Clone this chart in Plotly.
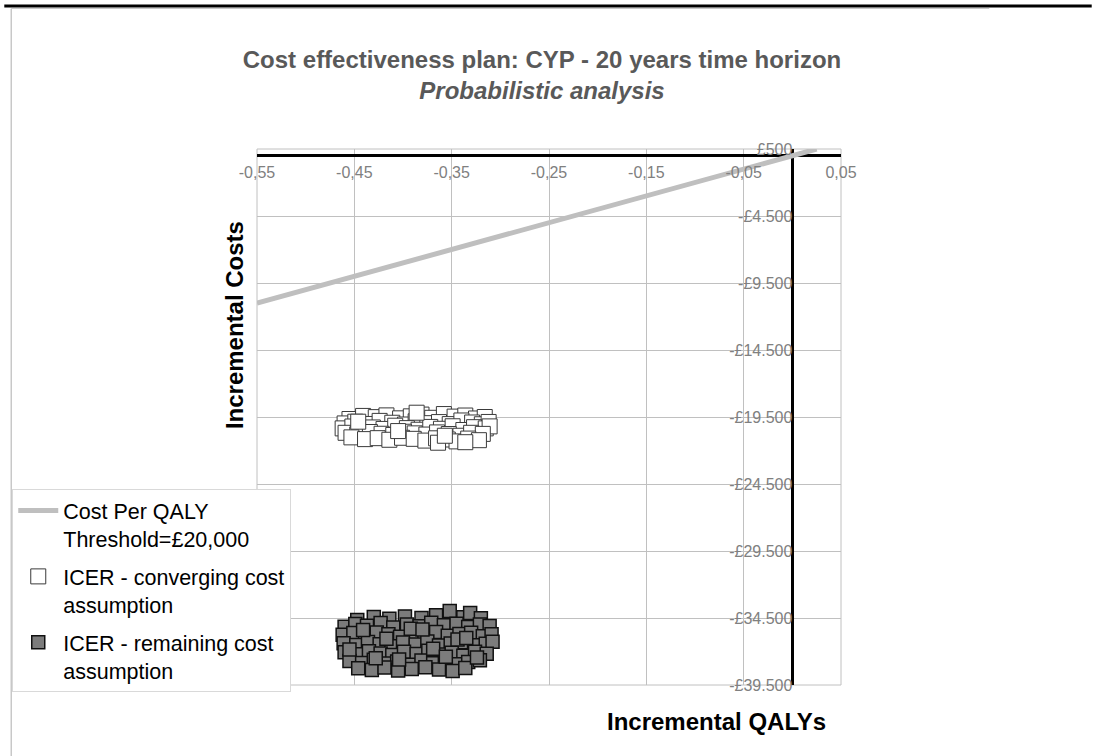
import plotly.graph_objects as go

# threshold line (cost per QALY = 20,000)
threshold_qaly = [-0.55, 0.025]
threshold_cost = [-11000, 500]

# ICER - converging cost assumption
conv_qaly = [-0.455, -0.441, -0.428, -0.417, -0.403, -0.392, -0.381, -0.370, -0.358, -0.347, -0.336, -0.325, -0.316,
             -0.460, -0.449, -0.436, -0.424, -0.411, -0.398, -0.387, -0.375, -0.363, -0.352, -0.340, -0.329, -0.319, -0.312,
             -0.462, -0.452, -0.443, -0.431, -0.420, -0.408, -0.396, -0.384, -0.372, -0.361, -0.349, -0.338, -0.327, -0.315, -0.311,
             -0.459, -0.447, -0.434, -0.422, -0.410, -0.399, -0.388, -0.376, -0.365, -0.353, -0.341, -0.330, -0.318,
             -0.453, -0.439, -0.426, -0.414, -0.401, -0.389, -0.377, -0.366, -0.354, -0.345, -0.333, -0.322,
             -0.386, -0.364, -0.336, -0.446, -0.405, -0.357]
conv_cost = [-19650, -19420, -19510, -19380, -19600, -19450, -19320, -19560, -19280, -19470, -19390, -19610, -19500,
             -19980, -19850, -20020, -19790, -19930, -20060, -19820, -19960, -19880, -20030, -19760, -19910, -20040, -19870,
             -20350, -20210, -20420, -20280, -20390, -20150, -20330, -20450, -20240, -20380, -20190, -20470, -20260, -20350, -20200,
             -20680, -20790, -20620, -20750, -20840, -20600, -20720, -20810, -20650, -20770, -20900, -20680, -20760,
             -21020, -21150, -21080, -21200, -21050, -21130, -21260, -21090, -21180, -21320, -21110, -21230,
             -19180, -21420, -21380, -19850, -20550, -20900]

# ICER - remaining cost assumption
rem_qaly = [-0.447, -0.430, -0.414, -0.398, -0.381, -0.366, -0.352, -0.338, -0.331, -0.320,
            -0.460, -0.449, -0.437, -0.423, -0.410, -0.396, -0.383, -0.371, -0.358, -0.345, -0.333, -0.321, -0.311,
            -0.462, -0.451, -0.439, -0.427, -0.415, -0.403, -0.390, -0.378, -0.366, -0.354, -0.342, -0.330, -0.318, -0.309,
            -0.461, -0.448, -0.436, -0.424, -0.412, -0.400, -0.387, -0.375, -0.363, -0.351, -0.339, -0.327, -0.315, -0.308,
            -0.460, -0.447, -0.435, -0.423, -0.411, -0.399, -0.386, -0.374, -0.362, -0.350, -0.338, -0.326, -0.314,
            -0.455, -0.442, -0.430, -0.418, -0.406, -0.394, -0.381, -0.369, -0.357, -0.345, -0.333, -0.321,
            -0.446, -0.432, -0.419, -0.405, -0.391, -0.377, -0.363, -0.349, -0.336,
            -0.441, -0.417, -0.392, -0.369, -0.344, -0.324, -0.455, -0.428, -0.404, -0.380, -0.356, -0.335]
rem_cost = [-34650, -34420, -34560, -34380, -34500, -34290, -33980, -34450, -34120, -34520,
            -35150, -34950, -35080, -34880, -35210, -34990, -35120, -34860, -35050, -34920, -35180, -34980, -35100,
            -35750, -35620, -35840, -35580, -35710, -35900, -35640, -35780, -35550, -35830, -35690, -35600, -35860, -35720,
            -36380, -36520, -36290, -36450, -36600, -36330, -36480, -36250, -36560, -36400, -36310, -36530, -36420, -36280,
            -37050, -37200, -36980, -37150, -37260, -37010, -37180, -36950, -37230, -37090, -37310, -37020, -37160,
            -37700, -37850, -37620, -37900, -37750, -37980, -37680, -37870, -37720, -37950, -37780, -37660,
            -38250, -38380, -38200, -38420, -38310, -38180, -38350, -38450, -38230,
            -35400, -36050, -35300, -36800, -36100, -37450, -36850, -37500, -37600, -35350, -37400, -36000]

x_ticks = [-0.55, -0.45, -0.35, -0.25, -0.15, -0.05, 0.05]
x_labels = ['-0,55', '-0,45', '-0,35', '-0,25', '-0,15', '-0,05', '0,05']
y_ticks = [500, -4500, -9500, -14500, -19500, -24500, -29500, -34500, -39500]
y_labels = ['£500', '-£4.500', '-£9.500', '-£14.500', '-£19.500', '-£24.500', '-£29.500', '-£34.500', '-£39.500']

x_range = [-0.55, 0.05]
y_range = [-39500, 500]

W, H = 1093, 756
L, R, T, B = 254, 252, 149, 71
pw, ph = W - L - R, H - T - B


def px_x(p):
    return (p - L) / pw


def px_y(p):
    return (H - B - p) / ph


FONT = 'Liberation Sans, Arial, sans-serif'

fig = go.Figure()

fig.add_trace(go.Scatter(x=threshold_qaly, y=threshold_cost, mode='lines',
                         name='Cost Per QALY<br>Threshold=£20,000', legendgroup='a',
                         line=dict(color='#bfbfbf', width=5)))
fig.add_trace(go.Scatter(x=conv_qaly, y=conv_cost, mode='markers',
                         name='ICER - converging cost<br>assumption', legendgroup='b',
                         marker=dict(symbol='square', size=15, color='white',
                                     line=dict(color='#3a3a3a', width=1))))
fig.add_trace(go.Scatter(x=rem_qaly, y=rem_cost, mode='markers',
                         name='ICER - remaining cost<br>assumption', legendgroup='c',
                         marker=dict(symbol='square', size=13, color='#7c7c7c',
                                     line=dict(color='#111111', width=1.5))))

fig.update_layout(
    width=W, height=H,
    margin=dict(l=L, r=R, t=T, b=B),
    paper_bgcolor='white', plot_bgcolor='white',
    font=dict(family=FONT, color='black'),
    title=dict(text='<b>Cost effectiveness plan: CYP - 20 years time horizon<br><i>Probabilistic analysis</i></b>',
               x=542 / W, xanchor='center', y=1 - 68 / H, yanchor='top',
               font=dict(size=24, color='#595959', family=FONT)),
    showlegend=True,
    legend=dict(x=px_x(8), y=px_y(489), xanchor='left', yanchor='top',
                bgcolor='white', bordercolor='#d9d9d9', borderwidth=1,
                font=dict(size=21.5, color='black', family=FONT),
                valign='top', tracegroupgap=7, itemwidth=40),
)

fig.update_xaxes(range=x_range, tickvals=x_ticks, ticktext=x_labels,
                 showgrid=True, gridcolor='#c0c0c0', gridwidth=1,
                 zeroline=True, zerolinecolor='black', zerolinewidth=2.5,
                 anchor='free', position=(0 - y_range[0]) / (y_range[1] - y_range[0]),
                 side='bottom', ticks='', showline=False, ticklabelstandoff=5,
                 tickfont=dict(size=16, color='#808080', family=FONT))
fig.update_yaxes(range=y_range, tickvals=y_ticks, ticktext=y_labels,
                 showgrid=True, gridcolor='#c0c0c0', gridwidth=1,
                 zeroline=True, zerolinecolor='black', zerolinewidth=2.5,
                 anchor='free', position=(0 - x_range[0]) / (x_range[1] - x_range[0]),
                 side='left', ticks='', showline=False,
                 tickfont=dict(size=16, color='#808080', family=FONT))

# plot area frame
fig.add_shape(type='rect', xref='paper', yref='paper', x0=0, x1=1, y0=0, y1=1,
              line=dict(color='#c0c0c0', width=1), layer='below')

# chart area border bits
fig.add_shape(type='line', xref='paper', yref='paper', x0=px_x(0), x1=px_x(W), y0=px_y(6), y1=px_y(6),
              line=dict(color='black', width=3))
fig.add_shape(type='line', xref='paper', yref='paper', x0=px_x(7), x1=px_x(990), y0=px_y(8.5), y1=px_y(8.5),
              line=dict(color='#c8c8c8', width=1))
fig.add_shape(type='line', xref='paper', yref='paper', x0=px_x(7), x1=px_x(7), y0=px_y(8.5), y1=px_y(H),
              line=dict(color='#c8c8c8', width=1.5))

# axis titles
fig.add_annotation(text='<b>Incremental Costs</b>', xref='paper', yref='paper',
                   x=px_x(231), y=px_y(325), xanchor='center', yanchor='middle',
                   textangle=-90, showarrow=False,
                   font=dict(size=24, color='black', family=FONT))
fig.add_annotation(text='<b>Incremental QALYs</b>', xref='paper', yref='paper',
                   x=px_x(716), y=px_y(721), xanchor='center', yanchor='middle',
                   showarrow=False,
                   font=dict(size=24, color='black', family=FONT))

fig.write_html("out.html", config={'displayModeBar': False},
               post_script="document.body.style.margin='0px';")
